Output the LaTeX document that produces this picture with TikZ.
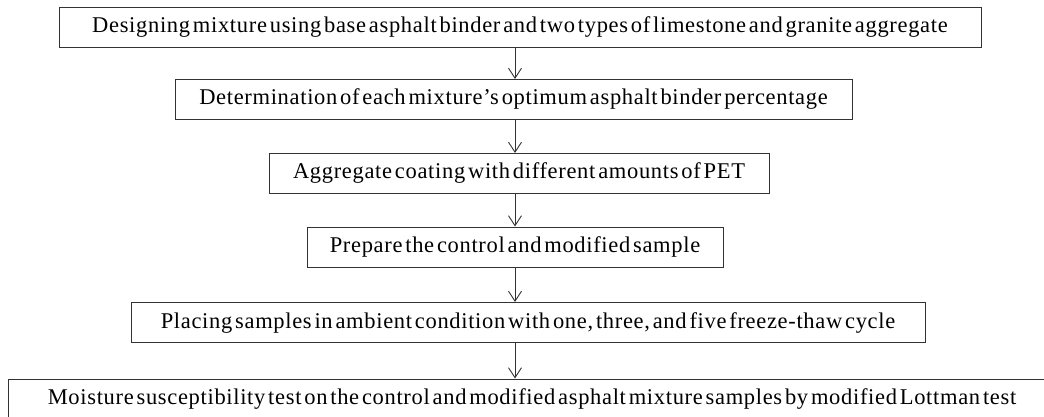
\documentclass[tikz,border=0pt]{standalone}
\usepackage{fontspec}
\setmainfont{Liberation Serif}[LetterSpace=3.0,WordSpace=0.45]
\usetikzlibrary{arrows.meta}
\begin{document}
\begin{tikzpicture}[x=1pt,y=-1pt,
	stage/.style={draw=black!80,line width=1pt,minimum height=40pt,inner sep=0pt,font=\fontsize{22.5}{26}\selectfont},
	flow/.style={draw=black!80,line width=0.9pt,-{Straight Barb[length=10pt,width=13pt]}}]
	\useasboundingbox (0,0) rectangle (1044,416);
	\clip (0,0) rectangle (1044,416);
	\coordinate (axis) at (515,0); % arrow line
	\node[stage,minimum width=922pt] (s1) at (520,27) {Designing mixture using base asphalt binder and two types of limestone and granite aggregate};
	\node[stage,minimum width=677pt] (s2) at (513.5,99.5) {Determination of each mixture’s optimum asphalt binder percentage};
	\node[stage,minimum width=500pt] (s3) at (519,173.5) {Aggregate coating with different amounts of PET};
	\node[stage,minimum width=416pt] (s4) at (515,247) {Prepare the control and modified sample};
	\node[stage,minimum width=794pt] (s5) at (528,322.5) {Placing samples in ambient condition with one, three, and five freeze-thaw cycle};
	\node[stage,minimum width=1048pt] (s6) at (532,399) {Moisture susceptibility test on the control and modified asphalt mixture samples by modified Lottman test};
	\foreach \a/\b in {s1/s2,s2/s3,s3/s4,s4/s5,s5/s6}
		\draw[flow] (\a.south -| axis) -- (\b.north -| axis);
\end{tikzpicture}
\end{document}
